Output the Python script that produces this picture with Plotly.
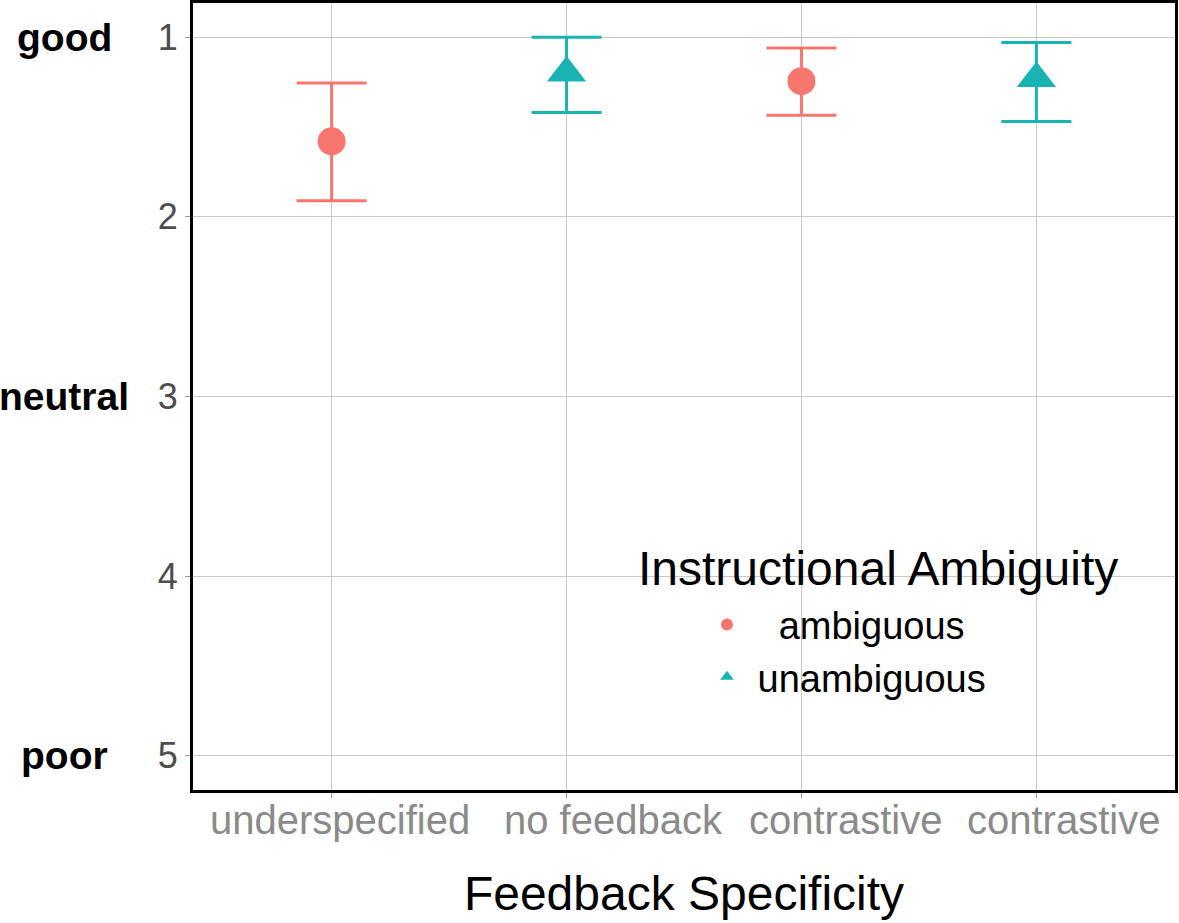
import plotly.graph_objects as go

# --- data ---
categories = ["underspecified", "no feedback", "contrastive", "contrastive"]
cat_pos = [0, 1, 2, 3]

amb_x = [0, 2]
amb_mean = [1.58, 1.245]
amb_low = [1.255, 1.06]   # upper bar end (better rating)
amb_high = [1.91, 1.435]

unamb_x = [1, 3]
unamb_mean = [1.2, 1.23]
unamb_low = [1.0, 1.03]
unamb_high = [1.42, 1.47]

y_ticks = [1, 2, 3, 4, 5]
side_labels = {"good": 1, "neutral": 3, "poor": 5}

# the labels under the axis are not centred on their ticks in the original
label_shift = [8, 47, 44, 27]

red = "#F8766D"
teal = "#1AB3B3"
nb = "\u00a0"

fig = go.Figure()

fig.add_trace(go.Scatter(
    x=amb_x, y=amb_mean, mode="markers", name=nb * 3 + "ambiguous",
    marker=dict(symbol="circle", size=28, color=red),
    error_y=dict(type="data", symmetric=False,
                 array=[h - m for h, m in zip(amb_high, amb_mean)],
                 arrayminus=[m - l for m, l in zip(amb_mean, amb_low)],
                 color=red, thickness=3, width=35),
))
fig.add_trace(go.Scatter(
    x=unamb_x, y=unamb_mean, mode="markers", name=nb + "unambiguous",
    marker=dict(symbol="triangle-up", size=34, color=teal),
    error_y=dict(type="data", symmetric=False,
                 array=[h - m for h, m in zip(unamb_high, unamb_mean)],
                 arrayminus=[m - l for m, l in zip(unamb_mean, unamb_low)],
                 color=teal, thickness=3, width=35),
))

for txt, yv in side_labels.items():
    fig.add_annotation(x=-0.131, xref="paper", y=yv, yref="y", text="<b>%s</b>" % txt,
                       showarrow=False, font=dict(size=39, color="black"),
                       xanchor="center", yanchor="middle")

# x tick labels
for xv, lab, sh in zip(cat_pos, categories, label_shift):
    fig.add_annotation(x=xv, xref="x", y=0, yref="paper", text=lab,
                       showarrow=False, font=dict(size=40, color="#8a8a8a"),
                       xanchor="center", yanchor="top", xshift=sh, yshift=-6)

# legend box: white panel hiding the grid, title centred on top
fig.add_shape(type="rect", xref="paper", yref="paper",
              x0=0.4196, x1=0.9745, y0=0.108, y1=0.3532,
              fillcolor="white", line=dict(width=0), layer="between")
fig.add_annotation(x=0.6976, xref="paper", y=0.282, yref="paper",
                   text="Instructional Ambiguity", showarrow=False,
                   font=dict(size=48, color="black"), xanchor="center", yanchor="middle")

fig.update_layout(
    width=1179, height=923,
    margin=dict(l=193, r=4, t=3, b=133),
    paper_bgcolor="white", plot_bgcolor="white",
    font=dict(family="Liberation Sans"),
    showlegend=True,
    legend=dict(
        x=0.5234, y=0.25, xanchor="left", yanchor="top",
        bgcolor="rgba(0,0,0,0)",
        font=dict(size=38, color="black"),
        itemsizing="constant",
        tracegroupgap=0,
    ),
)

fig.update_xaxes(
    tickvals=cat_pos, showticklabels=False, range=[-0.59, 3.59],
    showgrid=True, gridcolor="#c8c8c8", gridwidth=1,
    ticks="outside", ticklen=5, tickcolor="#999999",
    showline=True, linecolor="black", linewidth=3, mirror=True,
    zeroline=False, automargin=False,
    title=dict(text="Feedback Specificity", font=dict(size=48, color="black"), standoff=80),
)
fig.update_yaxes(
    tickvals=y_ticks, range=[5.19, 0.81],
    showgrid=True, gridcolor="#c8c8c8", gridwidth=1,
    tickfont=dict(size=36, color="#4d4d4d"),
    ticks="outside", ticklen=5, tickcolor="#999999",
    showline=True, linecolor="black", linewidth=3, mirror=True,
    zeroline=False, automargin=False,
)

fig.write_html("out.html", config={"displayModeBar": False},
               post_script="document.body.style.margin='0';")
